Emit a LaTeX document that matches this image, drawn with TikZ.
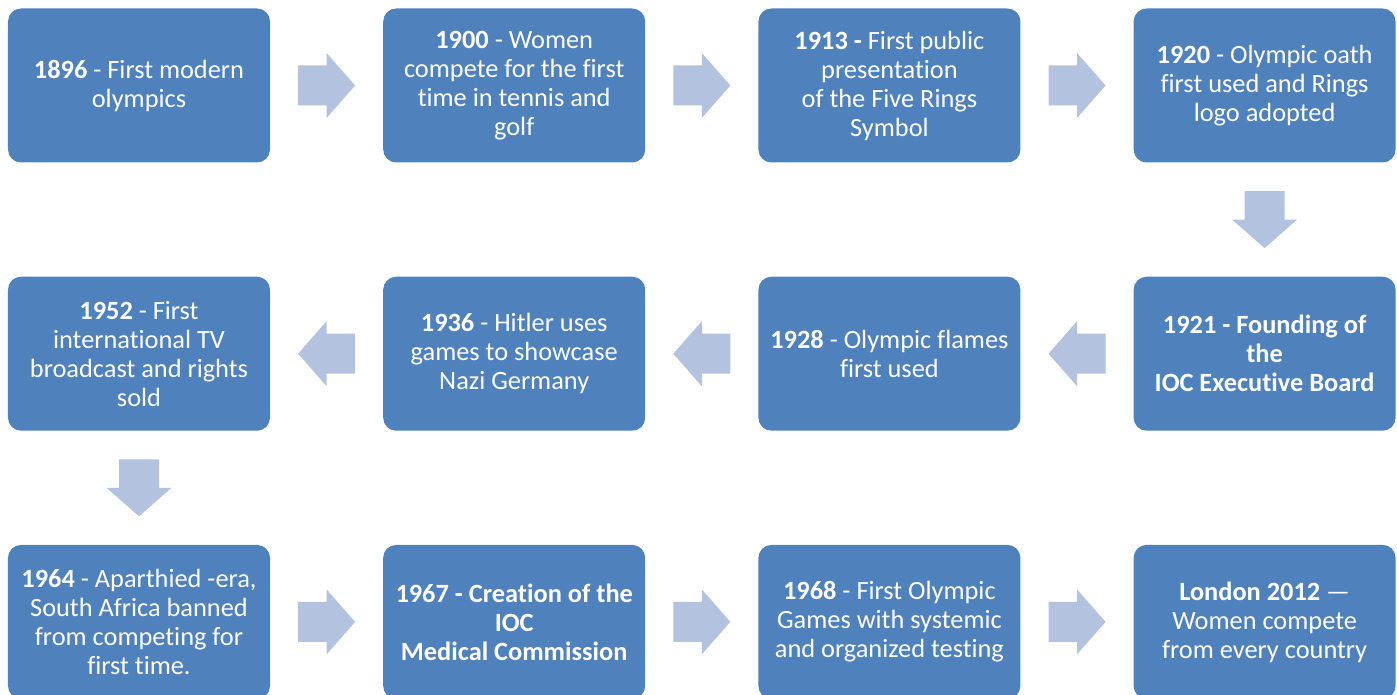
\documentclass[tikz,border=0pt]{standalone}
\usepackage{fontspec}
\setmainfont{Carlito}[RawFeature={-liga;-clig;-calt;-dlig}]
\usepackage{tikz}
\usetikzlibrary{positioning, calc}
\definecolor{boxblue}{HTML}{4F81BD}
\definecolor{arrowblue}{RGB}{179,194,222}
\tikzstyle{event} = [rectangle, rounded corners=0.26cm, minimum width=5.24cm, minimum height=3.08cm, inner sep=2pt, align=center, fill=boxblue, text=white, font=\fontsize{15pt}{16.5pt}\selectfont]
\tikzstyle{flow} = [fill=arrowblue, draw=none]
% block arrow halfway between two boxes, turned by #3 degrees
\newcommand{\flowarrow}[3]{\fill[flow, shift={($(#1)!0.5!(#2)$)}, rotate=#3] (-0.57,-0.4) -- (0,-0.4) -- (0,-0.65) -- (0.57,0) -- (0,0.65) -- (0,0.4) -- (-0.57,0.4) -- cycle;}

\begin{document}
\begin{tikzpicture}[node distance=2.25cm]
        \useasboundingbox (0,0) rectangle (27.94,13.88);
        % first row, left to right
        \node (b1896) [event] at (2.78,12.17) {\textbf{1896} - First modern\\olympics};
        \node (b1900) [event, right=of b1896] {\textbf{1900} - Women\\compete for the first\\time in tennis and\\golf};
        \flowarrow{b1896.east}{b1900.west}{0}
        \node (b1913) [event, right=of b1900] {\textbf{1913 -} First public\\presentation\\of the Five Rings\\Symbol};
        \flowarrow{b1900.east}{b1913.west}{0}
        \node (b1920) [event, right=of b1913] {\textbf{1920} - Olympic oath\\first used and Rings\\logo adopted};
        \flowarrow{b1913.east}{b1920.west}{0}
        % second row, right to left
        \node (b1921) [event, below=2.27cm of b1920] {\textbf{1921 - Founding of}\\\textbf{the}\\\textbf{IOC Executive Board}};
        \flowarrow{b1920.south}{b1921.north}{-90}
        \node (b1928) [event, left=of b1921] {\textbf{1928} - Olympic flames\\first used};
        \flowarrow{b1921.west}{b1928.east}{180}
        \node (b1936) [event, left=of b1928] {\textbf{1936} - Hitler uses\\games to showcase\\Nazi Germany};
        \flowarrow{b1928.west}{b1936.east}{180}
        \node (b1952) [event, left=of b1936] {\textbf{1952} - First\\international TV\\broadcast and rights\\sold};
        \flowarrow{b1936.west}{b1952.east}{180}
        % third row, left to right
        \node (b1964) [event, below=2.27cm of b1952] {\textbf{1964} - Aparthied -era,\\South Africa banned\\from competing for\\first time.};
        \flowarrow{b1952.south}{b1964.north}{-90}
        \node (b1967) [event, right=of b1964] {\textbf{1967 - Creation of the}\\\textbf{IOC}\\\textbf{Medical Commission}};
        \flowarrow{b1964.east}{b1967.west}{0}
        \node (b1968) [event, right=of b1967] {\textbf{1968} - First Olympic\\Games with systemic\\and organized testing};
        \flowarrow{b1967.east}{b1968.west}{0}
        \node (b2012) [event, right=of b1968] {\textbf{London 2012} ---\\Women compete\\from every country};
        \flowarrow{b1968.east}{b2012.west}{0}
    \end{tikzpicture}
\end{document}
